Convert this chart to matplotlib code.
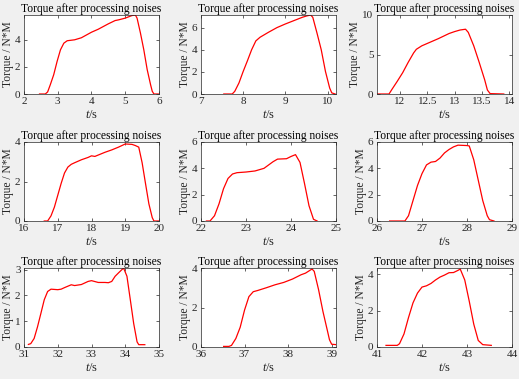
import matplotlib
matplotlib.use("Agg")
import matplotlib.pyplot as plt

# ---- data ----
t1 = [2.46, 2.63, 2.70, 2.78, 2.88, 2.98, 3.08, 3.18, 3.28, 3.5, 3.7, 4.0, 4.2, 4.5, 4.7, 4.8, 5.0, 5.2, 5.3, 5.35, 5.45, 5.55, 5.65, 5.75, 5.8, 5.85, 5.98]
y1 = [0.0, 0.0, 0.15, 0.69, 1.42, 2.4, 3.26, 3.75, 3.93, 4.0, 4.15, 4.56, 4.78, 5.18, 5.42, 5.47, 5.6, 5.79, 5.83, 5.6, 4.5, 3.26, 1.8, 0.69, 0.2, 0.0, 0.0]

t2 = [7.54, 7.74, 7.8, 7.9, 8.0, 8.1, 8.2, 8.3, 8.4, 8.6, 8.8, 9.0, 9.2, 9.4, 9.5, 9.6, 9.65, 9.75, 9.85, 9.95, 10.05, 10.1, 10.18]
y2 = [0.0, 0.0, 0.24, 1.0, 2.04, 3.0, 4.0, 4.8, 5.13, 5.58, 6.0, 6.33, 6.63, 6.93, 7.05, 7.14, 6.93, 5.5, 4.0, 2.04, 0.54, 0.1, 0.0]

t3 = [11.57, 11.8, 11.85, 11.95, 12.05, 12.15, 12.25, 12.3, 12.4, 12.5, 12.7, 12.9, 13.0, 13.1, 13.2, 13.25, 13.35, 13.45, 13.55, 13.6, 13.65, 13.9]
y3 = [0.0, 0.0, 0.55, 1.6, 2.7, 4.0, 5.2, 5.66, 6.1, 6.4, 7.0, 7.66, 7.9, 8.1, 8.2, 7.8, 6.1, 4.0, 1.8, 0.5, 0.05, 0.0]

t4 = [16.6, 16.7, 16.8, 16.9, 17.0, 17.1, 17.2, 17.3, 17.4, 17.5, 17.7, 17.9, 18.0, 18.1, 18.2, 18.4, 18.6, 18.8, 19.0, 19.2, 19.3, 19.4, 19.5, 19.6, 19.7, 19.8, 19.85, 20.0]
y4 = [0.0, 0.0, 0.26, 0.7, 1.3, 1.9, 2.43, 2.73, 2.87, 2.95, 3.1, 3.22, 3.3, 3.27, 3.34, 3.48, 3.6, 3.74, 3.9, 3.88, 3.82, 3.74, 2.95, 1.9, 0.87, 0.17, 0.0, 0.0]

t5 = [22.12, 22.2, 22.3, 22.4, 22.5, 22.6, 22.7, 22.8, 23.0, 23.2, 23.4, 23.6, 23.7, 23.9, 24.0, 24.1, 24.2, 24.3, 24.4, 24.5, 24.58]
y5 = [0.0, 0.0, 0.4, 1.3, 2.45, 3.23, 3.57, 3.67, 3.72, 3.8, 4.0, 4.5, 4.7, 4.73, 4.9, 5.04, 4.45, 2.85, 1.16, 0.13, 0.0]

t6 = [26.28, 26.62, 26.7, 26.8, 26.9, 27.0, 27.1, 27.2, 27.3, 27.4, 27.5, 27.6, 27.7, 27.8, 28.0, 28.05, 28.15, 28.25, 28.35, 28.45, 28.5, 28.6]
y6 = [0.0, 0.0, 0.4, 1.55, 2.7, 3.6, 4.26, 4.47, 4.52, 4.78, 5.17, 5.43, 5.63, 5.76, 5.73, 5.7, 4.65, 3.1, 1.55, 0.4, 0.1, 0.0]

t7 = [31.13, 31.2, 31.3, 31.4, 31.5, 31.6, 31.7, 31.8, 32.0, 32.1, 32.2, 32.4, 32.5, 32.7, 32.9, 33.0, 33.2, 33.4, 33.5, 33.6, 33.7, 33.8, 33.95, 34.05, 34.15, 34.25, 34.35, 34.4, 34.58]
y7 = [0.1, 0.13, 0.33, 0.78, 1.3, 1.83, 2.15, 2.24, 2.22, 2.24, 2.3, 2.41, 2.38, 2.42, 2.54, 2.57, 2.5, 2.5, 2.49, 2.54, 2.74, 2.87, 3.06, 2.74, 1.83, 0.91, 0.2, 0.09, 0.09]

t8 = [36.52, 36.64, 36.7, 36.8, 36.9, 37.0, 37.1, 37.2, 37.3, 37.5, 37.7, 37.9, 38.1, 38.3, 38.4, 38.5, 38.55, 38.6, 38.7, 38.8, 38.9, 38.95, 39.0, 39.1]
y8 = [0.03, 0.03, 0.08, 0.43, 1.0, 1.87, 2.55, 2.8, 2.86, 3.0, 3.15, 3.27, 3.44, 3.66, 3.74, 3.88, 3.95, 3.83, 2.9, 1.8, 0.85, 0.37, 0.14, 0.12]

t9 = [41.2, 41.45, 41.5, 41.6, 41.7, 41.8, 41.9, 42.0, 42.1, 42.2, 42.3, 42.4, 42.5, 42.6, 42.7, 42.8, 42.85, 42.95, 43.05, 43.15, 43.25, 43.35, 43.54]
y9 = [0.09, 0.09, 0.18, 0.72, 1.62, 2.43, 2.97, 3.3, 3.37, 3.5, 3.69, 3.85, 3.96, 4.09, 4.1, 4.22, 4.29, 3.69, 2.52, 1.26, 0.36, 0.13, 0.09]

series = [(t1, y1), (t2, y2), (t3, y3), (t4, y4), (t5, y5), (t6, y6), (t7, y7), (t8, y8), (t9, y9)]
xlims = [(2, 6), (7, 10.2), (11.58, 14.05), (16, 20), (22, 25), (26, 29), (31, 35), (36, 39.1), (41, 44)]
ylims = [(0, 5.83), (0, 7.14), (0, 10), (0, 4), (0, 6), (0, 6), (0, 3.06), (0, 4), (0, 4.35)]
xticks = [[2, 3, 4, 5, 6], [7, 8, 9, 10], [12, 12.5, 13, 13.5, 14], [16, 17, 18, 19, 20], [22, 23, 24, 25],
          [26, 27, 28, 29], [31, 32, 33, 34, 35], [36, 37, 38, 39], [41, 42, 43, 44]]
yticks = [[0, 2, 4], [0, 2, 4, 6], [0, 5, 10], [0, 2, 4], [0, 2, 4, 6], [0, 2, 4, 6], [0, 1, 2, 3], [0, 2, 4], [0, 2, 4]]
title = "Torque after processing noises"
ylabel = "Torque / N*M"

plt.rcParams['font.family'] = ['Liberation Serif', 'DejaVu Serif']
plt.rcParams['mathtext.fontset'] = 'custom'
plt.rcParams['mathtext.it'] = 'Liberation Serif:italic'
plt.rcParams['mathtext.rm'] = 'Liberation Serif'
W, H = 519, 379
fig = plt.figure(figsize=(W / 100, H / 100), dpi=100, facecolor='#f0f0f0')

lefts = [24, 201, 377]
tops = [15, 142, 268]
aw, ah = 135, 79
axcol = '#262626'

for i, (t, y) in enumerate(series):
    r, c = divmod(i, 3)
    x0 = lefts[c]
    y0 = tops[r]
    ax = fig.add_axes([x0 / W, 1 - (y0 + ah) / H, aw / W, ah / H])
    ax.set_facecolor('white')
    ax.plot(t, y, color='#ff0000', lw=0.9)
    ax.set_xlim(*xlims[i])
    ax.set_ylim(*ylims[i])
    ax.set_xticks(xticks[i])
    ax.set_xticklabels([f"{v:g}" for v in xticks[i]])
    ax.set_yticks(yticks[i])
    ax.tick_params(direction='in', length=2, width=0.5, colors=axcol, labelsize=8,
                   top=True, right=True, pad=2.5)
    for s in ax.spines.values():
        s.set_color(axcol)
        s.set_linewidth(0.5)
    ax.set_title(title, fontsize=8.3, color='black', pad=2.5)
    ax.set_ylabel(ylabel, fontsize=8.3, color=axcol, labelpad=1)
    ax.set_xlabel(r"$\it{t}$/s", fontsize=9, color=axcol, labelpad=2)

fig.savefig("out.png", dpi=100, facecolor=fig.get_facecolor())
